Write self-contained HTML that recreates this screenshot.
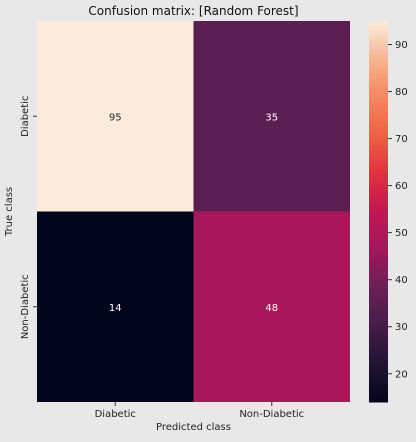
<!DOCTYPE html>
<html><head><meta charset="utf-8"><style>
body{margin:0;width:416px;height:437px;background:#e8e8e8;overflow:hidden}
text{font-family:"DejaVu Sans","Liberation Sans",sans-serif}
</style></head><body>
<svg id="c" width="416" height="437"></svg>
<script>
const xCats=["Diabetic","Non-Diabetic"];
const yCats=["Diabetic","Non-Diabetic"];
const values=[[95,35],[14,48]];
const cbTicks=[20,30,40,50,60,70,80,90];
const vmin=14, vmax=95;
const stops=["#03051a","#221331","#451c47","#6a1f56","#a1185b","#c21553","#e0313f","#f06043","#f4875e","#f6b48e","#faebdd"];
function hex(h){return [1,3,5].map(i=>parseInt(h.substr(i,2),16));}
function cmap(v){let t=Math.max(0,Math.min(1,(v-vmin)/(vmax-vmin)))*10;let i=Math.min(9,Math.floor(t)),f=t-i;
 const a=hex(stops[i]),b=hex(stops[i+1]);return "rgb("+a.map((x,k)=>Math.round(x+(b[k]-x)*f)).join(",")+")";}
const L=37,R=350,T=21,B=402,cbL=369,cbR=388;
const cw=(R-L)/xCats.length,ch=(B-T)/yCats.length;
const xs=i=>L+i*cw, ys=j=>T+j*ch, cy=v=>B-(v-vmin)/(vmax-vmin)*(B-T);
const svg=document.getElementById('c');const NS="http://www.w3.org/2000/svg";
function el(t,a,txt){const e=document.createElementNS(NS,t);for(const k in a)e.setAttribute(k,a[k]);if(txt!==undefined)e.textContent=txt;svg.appendChild(e);return e;}
values.forEach((row,j)=>row.forEach((v,i)=>{
 const r=el('rect',{x:xs(i),y:ys(j),width:cw,height:ch,fill:cmap(v)});
 
 
 const t=el('text',{x:xs(i)+cw/2,y:ys(j)+ch/2+4,'text-anchor':'middle','font-size':10,fill:v>60?'#262626':'#ffffff'},String(v));
 
 
}));
xCats.forEach((c,i)=>{const x=xs(i)+cw/2;el('line',{x1:x,x2:x,y1:B,y2:B+4,stroke:'#333'});
 const t=el('text',{x:x,y:B+15,'text-anchor':'middle','font-size':10,fill:'#222'},c);
 
 });
yCats.forEach((c,j)=>{const y=ys(j)+ch/2;el('line',{x1:L-4,x2:L,y1:y,y2:y,stroke:'#333'});
 const t=el('text',{x:0,y:0,transform:`translate(28,${y}) rotate(-90)`,'text-anchor':'middle','font-size':10,fill:'#222'},c);
 
 });
const N=80;for(let k=0;k<N;k++){const v0=vmin+(vmax-vmin)*k/N,v1=vmin+(vmax-vmin)*(k+1)/N;
 el('rect',{x:cbL,y:cy(v1)-0.5,width:cbR-cbL,height:cy(v0)-cy(v1)+1,fill:cmap((v0+v1)/2)});}
cbTicks.forEach(v=>{const y=cy(v);el('line',{x1:cbR,x2:cbR+4,y1:y,y2:y,stroke:'#333'});
 const t=el('text',{x:cbR+7,y:y+3.5,'font-size':10,fill:'#222'},String(v));
 
 });
let t=el('text',{x:(L+R)/2,y:15,'text-anchor':'middle','font-size':12,fill:'#111'},'Confusion matrix: [Random Forest]');

t=el('text',{x:(L+R)/2,y:430,'text-anchor':'middle','font-size':10,fill:'#222'},'Predicted class');

t=el('text',{x:0,y:0,transform:`translate(12,${(T+B)/2}) rotate(-90)`,'text-anchor':'middle','font-size':10,fill:'#222'},'True class');

</script>
</body></html>
